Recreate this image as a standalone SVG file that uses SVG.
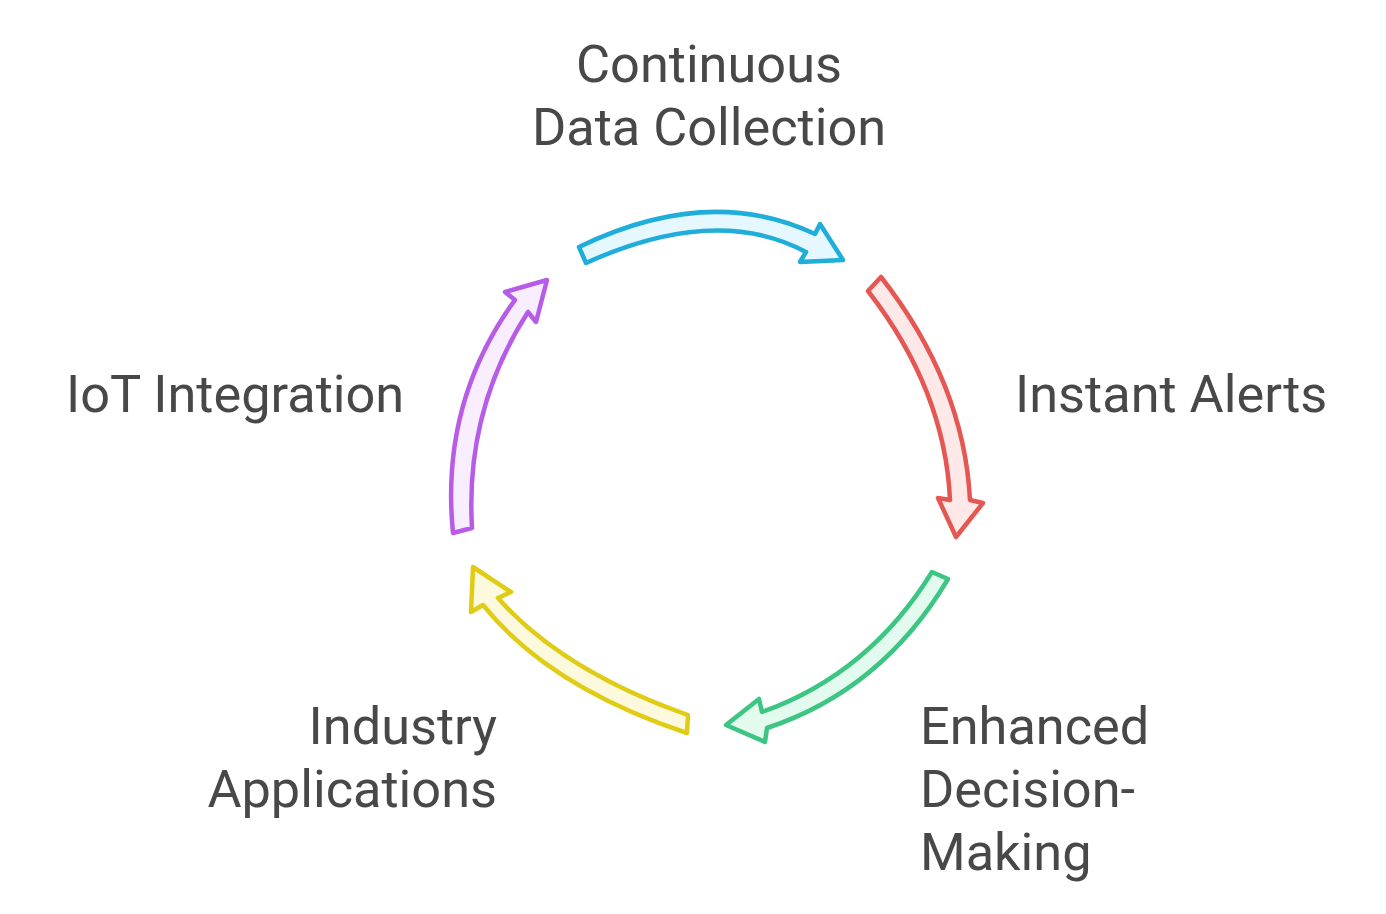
<svg xmlns="http://www.w3.org/2000/svg" width="1386" height="914" viewBox="0 0 1386 914">
<style>
.lbl{font-family:Roboto,"Liberation Sans",sans-serif;font-size:52.3px;fill:#484848}
.arr{stroke-width:4.5;stroke-linejoin:round}
</style>
<rect width="1386" height="914" fill="#ffffff"/>
<g id="connectors">
<path id="arrow-blue" class="arr" fill="#e6f8ff" stroke="#1fadd9" d="M579,247 Q709,184 815,234 L820,224 L843,260 L800,262 L806,252 Q716,204 586,263 Z"/>
<path id="arrow-red" class="arr" fill="#ffe8e8" stroke="#e55753" d="M881,277 Q964,383 970,500 L983,503 L956,537 L938,498 L950,500 Q945,390 868,291 Z"/>
<path id="arrow-green" class="arr" fill="#e2fbee" stroke="#3cc583" d="M948,579 Q882,690 767,728 L765,742 L726,725 L759,699 L762,712 Q869,674 932,572 Z"/>
<path id="arrow-yellow" class="arr" fill="#fdf9dc" stroke="#e0cb15" d="M687,733 Q549,687 483,605 L471,612 L473,567 L511,592 L498,598 Q563,671 688,715 Z"/>
<path id="arrow-purple" class="arr" fill="#f9eeff" stroke="#b75ce6" d="M453,533 Q440,403 515,300 L505,292 L547,280 L536,322 L528,312 Q465,410 472,528 Z"/>
</g>
<g id="node-continuous">
<text class="lbl" x="709" y="82" text-anchor="middle">Continuous</text>
<text class="lbl" x="709" y="145" text-anchor="middle">Data Collection</text>
</g>
<g id="node-alerts">
<text class="lbl" x="1015" y="412">Instant Alerts</text>
</g>
<g id="node-decision">
<text class="lbl" x="920" y="744">Enhanced</text>
<text class="lbl" x="920" y="807">Decision-</text>
<text class="lbl" x="920" y="870">Making</text>
</g>
<g id="node-industry">
<text class="lbl" x="497" y="744" text-anchor="end">Industry</text>
<text class="lbl" x="497" y="807" text-anchor="end">Applications</text>
</g>
<g id="node-iot">
<text class="lbl" x="66" y="412">IoT Integration</text>
</g>
</svg>
